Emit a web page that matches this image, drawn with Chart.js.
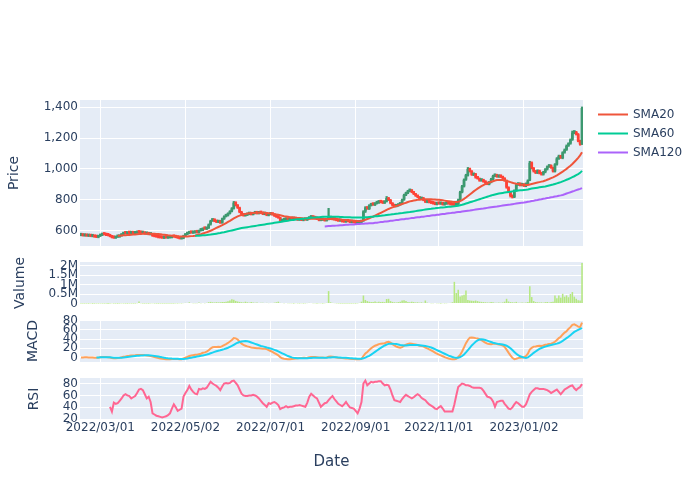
<!DOCTYPE html>
<html>
<head>
<meta charset="utf-8">
<script src="https://cdn.jsdelivr.net/npm/chart.js@4.4.1/dist/chart.umd.min.js"></script>
<style>
html,body{margin:0;padding:0;background:#ffffff;}
#wrap{position:relative;width:700px;height:500px;overflow:hidden;}
#wrap canvas{position:absolute;left:0;top:0;}
</style>
</head>
<body>
<div id="wrap">
<canvas id="cPrice" width="700" height="500"></canvas>
<canvas id="cVol" width="700" height="500"></canvas>
<canvas id="cMacd" width="700" height="500"></canvas>
<canvas id="cRsi" width="700" height="500"></canvas>
</div>
<script>
// ---------------- categories ----------------
const firstDay = '2022-02-15';
const dayCount = 260;
const dates = [];
for (let d = new Date(firstDay + 'T00:00:00Z'); dates.length < dayCount; d.setUTCDate(d.getUTCDate() + 1)) {
  const w = d.getUTCDay();
  if (w !== 0 && w !== 6) dates.push(d.toISOString().slice(0, 10).replace(/-/g, '/'));
}
const xTickDates = ['2022/03/01','2022/05/02','2022/07/01','2022/09/01','2022/11/01','2023/01/02'];

// ---------------- tick labels ----------------
const priceTicks = [600, 800, 1000, 1200, 1400];
const volTicks = [0, 500, 1000, 1500, 2000];      // thousands
const macdTicks = [0, 20, 40, 60, 80];
const rsiTicks = [20, 40, 60, 80];
const legendOrder = ['SMA20', 'SMA60', 'SMA120'];

// ---------------- OHLC ----------------
const open = [570,573,567,572,565,570,563,567,561,557,
565,571,579,574,572,568,564,557,552,559,
560,567,577,586,581,587,583,589,582,585,
591,589,584,587,579,583,575,578,567,564,
561,558,556,552,557,553,555,556,564,561,
558,554,548,551,567,577,583,591,585,587,
593,588,601,603,616,611,617,641,665,674,
663,655,664,651,677,693,699,711,726,744,
785,767,750,722,707,697,701,707,714,705,
712,718,711,722,715,707,714,699,705,711,
706,698,691,686,661,667,671,677,669,680,
675,681,675,669,673,667,675,669,677,685,
691,685,681,677,667,669,673,665,673,681,
686,679,673,669,663,667,661,657,665,661,
655,659,655,649,653,655,664,724,751,741,
764,773,767,777,781,791,785,779,789,813,
800,779,766,757,761,769,775,801,831,844,
857,865,851,839,827,819,805,813,799,785,
791,785,781,777,771,779,773,777,769,773,
779,776,771,769,764,773,801,849,887,931,
958,1002,987,961,969,946,939,924,931,919,
911,901,914,934,954,963,949,956,949,941,
926,882,852,826,817,859,897,906,894,901,
889,904,927,1042,1006,986,974,991,973,964,
979,997,1014,1023,1009,984,1029,1067,1086,1071,
1107,1124,1151,1164,1189,1234,1241,1226,1181,1162];

const high = [575,576,574,575,570,572,568,569,564,567,
575,581,582,577,574,571,566,560,560,563,
568,580,588,589,588,590,591,592,588,593,
594,592,589,590,584,586,580,580,570,567,
564,561,559,558,560,559,560,566,567,564,
561,557,554,571,581,587,593,594,591,595,
596,604,608,618,620,622,644,668,678,677,
667,666,667,682,697,705,716,730,750,790,
788,770,753,726,710,706,712,716,717,718,
720,722,724,725,718,715,716,709,713,714,
709,700,694,688,671,675,679,680,681,683,
684,683,678,675,676,677,678,681,689,694,
694,688,684,680,673,676,676,677,745,688,
689,682,676,672,669,670,664,667,668,664,
662,662,658,655,658,666,730,756,755,769,
777,776,781,786,795,794,788,794,822,816,
803,782,769,765,774,780,805,837,850,862,
868,867,855,842,830,822,816,816,802,794,
794,788,784,780,781,782,779,780,777,781,
782,779,774,771,775,805,856,894,936,966,
1010,1006,990,972,972,950,942,934,934,922,
914,919,940,960,967,966,958,960,952,944,
929,885,855,830,865,903,910,909,904,904,
910,930,1050,1046,1010,990,995,993,976,985,
1003,1020,1028,1027,1012,1035,1074,1090,1089,1112,
1130,1156,1170,1195,1246,1248,1244,1230,1186,1402];

const low = [567,565,564,563,562,561,560,557,555,554,
562,568,572,568,566,560,553,550,550,556,
557,564,574,579,578,581,580,580,579,582,
584,582,581,577,576,573,572,563,560,557,
553,552,550,549,551,550,552,553,557,554,
550,546,545,548,564,574,580,583,582,584,
585,585,598,600,608,607,614,636,660,658,
652,652,647,648,673,689,695,708,722,740,
760,744,716,700,694,694,698,703,702,702,
709,708,708,710,704,703,697,696,702,700,
692,686,680,658,657,664,668,667,666,672,
672,670,666,666,665,664,667,666,674,682,
680,677,673,664,664,666,662,662,670,678,
674,668,664,660,660,656,654,654,657,652,
651,650,646,645,650,652,660,718,738,737,
760,764,763,773,777,780,776,776,786,795,
774,761,753,754,758,765,771,797,827,840,
852,846,834,822,814,802,801,794,782,781,
780,776,772,768,767,771,770,766,765,770,
771,766,764,760,761,769,797,845,883,926,
954,980,958,957,940,934,920,920,914,906,
898,897,910,930,950,946,945,944,936,921,
875,846,818,812,814,855,893,890,890,886,
885,900,924,1000,980,970,970,968,960,960,
975,993,1010,1004,980,980,1025,1062,1068,1066,
1102,1120,1146,1160,1185,1228,1220,1176,1154,1158];

const close = [572,568,571,566,569,564,566,560,558,564,
572,578,575,571,569,563,556,553,558,561,
566,578,585,582,586,584,588,583,586,590,
588,585,586,580,582,576,577,566,563,560,
557,555,553,556,554,556,557,563,560,557,
553,549,552,568,578,584,590,586,588,592,
589,600,604,615,612,618,640,664,672,662,
656,662,650,678,692,700,712,725,745,782,
765,748,720,705,698,702,708,712,706,714,
716,712,720,714,708,712,700,706,710,704,
696,690,684,662,668,672,675,670,678,676,
680,674,670,672,668,674,670,678,686,690,
684,680,676,668,670,672,666,674,680,684,
678,672,668,664,666,660,658,664,660,656,
658,654,650,652,654,662,725,750,742,765,
772,768,778,782,790,784,780,790,812,798,
778,765,758,762,770,776,800,832,845,858,
864,850,838,826,818,806,812,798,786,790,
784,780,776,772,778,774,776,770,774,778,
775,770,768,765,772,800,850,888,930,960,
1000,985,962,968,945,938,925,930,918,910,
902,915,935,955,962,950,955,948,940,925,
880,850,825,818,860,898,905,895,900,890,
905,925,1040,1005,985,975,990,972,965,980,
998,1015,1022,1008,985,1030,1068,1085,1072,1108,
1125,1150,1165,1190,1235,1240,1225,1180,1160,1395];

// ---------------- moving averages (each starts at its own day) ----------------
const sma20Start = 19;
const sma20 = [567,
568,569,570,571,572,573,574,575,576,577,
578,579,580,580,581,581,581,580,580,579,
578,577,575,574,572,570,569,568,566,565,
564,563,562,562,563,563,564,565,566,568,
572,575,578,582,586,590,595,600,606,612,
618,624,630,636,643,650,657,664,672,680,
687,693,698,702,706,709,711,713,714,715,
716,716,717,717,717,716,715,713,711,709,
707,705,703,700,697,694,692,690,688,686,
685,684,683,682,681,680,679,679,678,678,
677,677,676,676,675,675,675,675,676,676,
675,675,674,673,672,671,670,669,668,667,
666,665,664,663,662,663,667,671,676,681,
687,692,698,704,710,716,722,728,735,741,
746,751,756,760,764,768,773,777,781,786,
790,793,796,798,800,801,803,804,804,804,
804,804,803,802,801,800,799,797,795,793,
791,789,787,786,786,788,792,798,806,815,
825,835,845,855,864,873,881,889,896,902,
907,912,917,921,925,928,929,929,928,926,
923,919,915,911,907,904,902,900,898,897,
897,897,900,903,906,909,912,915,918,921,
925,930,935,941,946,952,959,967,975,983,
992,1001,1011,1021,1032,1045,1058,1072,1088,1108];

const sma60Start = 59;
const sma60 = [567,
567,568,569,570,571,572,574,575,577,579,
581,583,585,588,590,593,596,599,602,605,
608,611,614,617,619,621,623,625,627,629,
631,633,635,637,639,641,643,645,647,649,
651,653,655,657,659,661,663,665,667,669,
670,672,674,675,677,678,680,681,683,684,
685,686,687,688,689,690,690,691,691,691,
691,691,690,690,689,689,688,688,687,687,
686,686,685,685,685,685,686,687,688,689,
690,691,693,694,696,697,699,700,702,704,
705,707,708,710,711,713,714,716,718,720,
721,723,725,727,729,731,733,735,737,739,
741,742,744,745,747,748,750,751,752,754,
755,756,757,758,760,762,765,768,772,776,
780,784,788,792,796,800,804,808,812,816,
820,824,828,832,835,838,841,843,845,847,
849,851,853,855,857,859,861,862,863,864,
865,867,870,873,875,877,879,881,883,885,
887,890,893,896,899,903,907,911,915,920,
925,930,935,941,947,953,960,967,975,988];

const sma120Start = 126;
const sma120 = [628,629,630,631,
632,632,633,634,635,636,637,638,639,640,
641,641,642,643,644,645,645,646,647,648,
648,649,651,652,654,656,657,659,660,662,
664,665,667,669,670,672,674,675,677,678,
680,682,683,685,687,688,690,691,693,695,
696,698,700,701,703,704,706,708,709,711,
713,714,716,717,719,721,722,724,726,728,
730,731,733,735,737,739,741,743,744,746,
748,750,752,754,756,757,759,761,763,765,
767,769,770,772,774,776,778,780,782,783,
785,787,789,792,794,797,799,802,804,807,
809,812,814,817,819,822,824,827,829,832,
836,841,845,849,854,858,863,867,871,876];

// ---------------- volume (thousands) ----------------
const volumeK = [30,25,20,28,22,35,18,24,30,26,
32,28,20,24,18,22,35,30,25,20,
28,35,30,26,22,30,28,24,32,45,
130,40,30,25,28,22,35,40,30,26,
22,28,25,20,24,30,26,22,28,35,
30,40,32,45,60,55,90,50,40,35,
45,80,40,50,35,60,95,110,90,80,
95,85,90,100,110,120,140,180,250,220,
160,130,110,95,80,120,90,70,100,75,
60,80,55,70,65,50,60,45,55,50,
70,90,120,60,50,40,55,45,35,40,
30,45,35,30,40,28,35,45,60,50,
40,35,30,45,35,30,40,60,670,90,
60,45,35,30,25,30,22,28,20,25,
20,30,25,35,60,120,440,210,150,120,
110,100,130,90,120,100,110,95,260,270,
150,110,90,80,100,120,180,200,150,110,
95,120,100,80,90,70,85,60,180,70,
50,45,40,55,35,40,30,45,35,40,
50,60,90,1150,570,740,390,440,480,700,
210,180,170,160,180,150,120,110,100,90,
80,75,110,90,70,60,75,65,80,120,
270,130,100,90,80,110,70,65,80,60,
75,110,920,360,150,100,90,80,85,70,
95,110,80,100,120,440,300,440,330,530,
380,450,350,520,620,380,270,200,180,2130];

// ---------------- MACD ----------------
const macd = [0,0,0.3,0.2,0,-0.2,-0.3,-0.6,-0.8,-0.5,
0.2,0.9,1.0,0.8,0.4,-0.3,-1.2,-2.0,-1.8,-1.5,
-0.9,0.2,1.5,2.2,3.0,3.4,4.0,4.2,4.5,5.0,
5.1,5.0,5.0,4.5,4.2,3.5,3.0,1.8,0.6,-0.5,
-1.5,-2.3,-3.0,-3.3,-3.8,-4.0,-4.0,-3.5,-3.3,-3.4,
-3.6,-4.0,-3.8,-2.2,-0.5,1.2,3.0,4.0,4.8,5.6,
6.0,7.0,8.0,10.0,11.0,12.5,15.5,19.5,22.0,22.5,
22.5,23.0,22.5,24.5,27.0,29.0,31.5,34.5,38.0,42.0,
41.5,39.0,34.5,30.0,27.5,25.5,24.0,23.0,21.5,21.0,
20.5,20.0,20.0,19.5,19.0,19.0,18.0,16.0,14.0,12.0,
9.5,7.0,4.5,0.5,-2.0,-3.0,-3.5,-4.0,-4.0,-3.5,
-3.0,-2.5,-2.0,-1.5,-1.2,-1.0,-1.0,-0.5,0.3,1.0,
1.0,0.8,0.5,0,-0.3,-0.2,-0.5,0,1.5,2.0,
1.5,0.8,0,-0.8,-1.2,-1.5,-2.0,-2.2,-2.5,-3.0,
-3.2,-3.5,-4.0,-4.2,-4.0,-3.0,3.0,8.5,12.0,16.0,
20.0,23.0,25.5,27.0,29.0,30.0,30.5,31.0,33.0,34.0,
32.0,29.0,26.0,23.5,22.0,21.0,22.5,25.5,28.0,29.5,
30.5,30.0,29.0,28.0,27.0,25.5,25.0,24.0,21.5,19.5,
17.5,15.5,13.0,10.5,8.0,6.0,4.5,2.5,0.5,-1.0,
-2.5,-3.5,-4.0,-4.2,-3.0,1.0,5.5,13.0,22.0,31.0,
38.0,43.0,43.5,43.0,42.0,41.5,40.0,37.5,35.0,32.0,
30.0,29.0,28.5,29.5,30.0,29.0,28.0,27.5,26.0,23.0,
17.0,10.5,4.5,-1.0,-4.0,-3.0,-1.5,-0.5,0,0.5,
3.0,8.0,17.0,21.0,23.5,24.0,25.0,25.5,25.0,26.0,
27.5,28.0,29.5,30.0,31.5,34.0,38.0,42.0,45.0,50.0,
54.0,57.0,62.0,66.0,71.0,72.0,70.0,67.0,66.0,76.0];

const signalStart = 8;
const signal = [0,0,
0.1,0.2,0.3,0.3,0.3,0.2,-0.1,-0.5,-0.7,-0.9,
-0.9,-0.7,-0.3,0.3,0.9,1.5,2.0,2.5,3.0,3.5,
3.8,4.1,4.3,4.5,4.6,4.5,4.3,3.9,3.3,2.6,
1.8,1.0,0.2,-0.5,-1.2,-1.8,-2.3,-2.6,-2.8,-3.0,
-3.1,-3.3,-3.4,-3.2,-2.8,-2.2,-1.4,-0.6,0.2,1.0,
1.8,2.6,3.4,4.3,5.2,6.2,7.5,9.0,10.5,12.0,
13.3,14.5,15.5,16.7,18.0,19.5,21.0,23.0,25.0,27.5,
30.0,32.0,33.5,34.5,35.0,35.5,35.0,34.0,32.5,31.0,
29.5,28.0,26.5,25.0,24.0,23.0,21.5,20.5,19.5,18.0,
16.5,15.0,13.0,11.0,9.0,7.0,5.0,3.0,1.5,0.0,
-1.0,-1.5,-2.0,-2.0,-2.0,-2.0,-2.0,-1.8,-1.5,-1.2,
-1.0,-0.8,-0.6,-0.5,-0.5,-0.5,-0.5,-0.5,-0.3,0.0,
0.2,0.2,0.1,0,-0.2,-0.5,-0.8,-1.0,-1.3,-1.6,
-1.9,-2.2,-2.5,-2.8,-3.0,-3.0,-2.0,-0.5,1.5,3.5,
6.0,9.0,12.0,15.0,18.0,21.0,23.5,26.0,28.0,29.5,
30.0,30.0,29.5,29.0,28.0,27.0,26.5,26.0,26.0,26.5,
27.0,27.0,27.0,27.0,26.8,26.5,26.0,25.5,25.0,24.0,
23.0,21.5,20.0,18.0,16.0,14.0,12.0,10.0,8.0,6.0,
4.0,2.5,1.0,0.0,-0.5,-0.5,0.5,3.0,6.5,11.0,
16.0,21.0,26.0,30.0,34.0,37.0,39.0,39.5,39.0,38.0,
36.5,35.0,33.5,32.0,31.0,30.0,29.0,28.5,28.0,27.0,
25.5,23.0,20.0,16.0,12.0,8.0,5.0,2.5,1.0,-0.5,
-1.0,0.0,3.0,6.5,10.0,13.0,16.0,18.5,20.5,22.0,
23.5,25.0,26.0,27.0,28.0,29.0,30.0,31.5,33.5,36.0,
39.0,42.0,45.0,48.5,52.0,55.5,58.0,60.0,62.0,64.0];

// ---------------- RSI ----------------
const rsiStart = 15;
const rsi = [41,33,48,46,47,
51,55,60,62,60,59,55,57,59,64,
70,71,69,62,55,58,49,30,28,26,
25,24,23,24,25,27,30,38,45,40,
34,36,38,58,64,69,76,70,66,63,
62,71,70,72,71,73,78,83,80,78,
76,73,69,75,80,81,80,81,84,85,
81,77,70,63,60,59,59,60,60,61,
60,58,55,51,47,44,41,47,46,48,
49,47,44,37,39,40,42,40,41,41,
42,43,43,44,43,42,41,48,58,63,
60,57,55,48,41,44,47,48,52,56,
59,54,50,46,44,42,45,49,44,40,
39,38,34,30,38,49,80,85,77,80,
83,82,83,83,84,84,80,77,78,77,
70,60,52,51,50,49,54,58,61,59,
57,55,57,60,62,60,56,54,52,48,
45,43,41,38,37,40,42,38,33,33,
33,33,33,45,60,74,77,80,79,77,
77,76,74,73,73,73,73,72,68,63,
58,57,55,50,41,49,50,51,51,46,
42,38,37,40,45,49,47,44,41,41,
45,53,62,66,69,72,72,71,71,71,
70,69,67,64,66,68,70,66,62,66,
70,72,74,76,77,72,69,72,74,79];

// ---------------- styling ----------------
const FONT = '"DejaVu Sans", Verdana, sans-serif';
const INK = '#2a3f5f';
const UP = '#3D9970', DOWN = '#FF4136';
Chart.defaults.font.family = FONT;
Chart.defaults.font.size = 12;
Chart.defaults.color = INK;

const toPoints = (arr, start) => arr.map((v, i) => ({ x: dates[start + i], y: v }));
const candleColor = (c) => close[c.dataIndex] >= open[c.dataIndex] ? UP : DOWN;

const plotBg = {
  id: 'plotBg',
  beforeDraw(chart) {
    const { ctx, chartArea: a } = chart;
    ctx.save();
    ctx.fillStyle = '#E5ECF6';
    ctx.fillRect(a.left, a.top, a.right - a.left, a.bottom - a.top);
    ctx.restore();
  }
};

const smaLegend = {
  id: 'smaLegend',
  afterDraw(chart) {
    const ctx = chart.ctx;
    const items = chart.data.datasets
      .filter(d => legendOrder.includes(d.label))
      .sort((a, b) => legendOrder.indexOf(a.label) - legendOrder.indexOf(b.label));
    items.forEach((d, i) => {
      const y = 114.5 + i * 19;
      ctx.save();
      ctx.strokeStyle = d.borderColor;
      ctx.lineWidth = 2;
      ctx.beginPath();
      ctx.moveTo(598, y);
      ctx.lineTo(628, y);
      ctx.stroke();
      ctx.fillStyle = INK;
      ctx.font = '12px ' + FONT;
      ctx.textBaseline = 'middle';
      ctx.textAlign = 'left';
      ctx.fillText(d.label, 633, y);
      ctx.restore();
    });
  }
};

function xScale(withLabels, withGrid) {
  return {
    type: 'category',
    offset: true,
    grid: { display: withGrid, color: '#ffffff', lineWidth: 1, offset: false, drawTicks: false },
    border: { display: false },
    ticks: { display: withLabels, autoSkip: false, maxRotation: 0, minRotation: 0, padding: 1, color: INK, font: { size: 12 } },
    afterBuildTicks: s => { s.ticks = xTickDates.map(d => ({ value: dates.indexOf(d) })); },
    afterFit: s => { s.height = withLabels ? 80 : 0; },
    title: withLabels
      ? { display: true, text: 'Date', color: INK, font: { size: 15 }, padding: { top: 0, bottom: 29 } }
      : { display: false }
  };
}

function yScale(min, max, tickVals, fmt, titleText, titlePad) {
  return {
    type: 'linear',
    min: min, max: max,
    grid: { color: '#ffffff', lineWidth: c => (c.tick && c.tick.value === 0) ? 2 : 1, drawTicks: false },
    border: { display: false },
    ticks: { autoSkip: false, padding: 2, color: INK, font: { size: 12 }, callback: fmt },
    afterBuildTicks: s => { s.ticks = tickVals.map(v => ({ value: v })); },
    afterFit: s => { s.width = 80; },
    title: { display: true, text: titleText, color: INK, font: { size: 14 }, padding: { top: titlePad, bottom: 0 } }
  };
}

function baseOptions(padTop, padBottom, x, y) {
  return {
    responsive: false,
    animation: false,
    events: [],
    layout: { padding: { left: 0, right: 117, top: padTop, bottom: padBottom } },
    plugins: { legend: { display: false }, tooltip: { enabled: false } },
    scales: { x: x, y: y }
  };
}

// ---------------- price panel ----------------
new Chart(document.getElementById('cPrice'), {
  type: 'bar',
  data: {
    labels: dates,
    datasets: [
      { type: 'line', label: 'SMA120', data: toPoints(sma120, sma120Start), borderColor: '#AB63FA', borderWidth: 2, pointRadius: 0, fill: false, order: 0 },
      { type: 'line', label: 'SMA60', data: toPoints(sma60, sma60Start), borderColor: '#00CC96', borderWidth: 2, pointRadius: 0, fill: false, order: 1 },
      { type: 'line', label: 'SMA20', data: toPoints(sma20, sma20Start), borderColor: '#EF553B', borderWidth: 2, pointRadius: 0, fill: false, order: 2 },
      { type: 'bar', label: 'body', data: open.map((o, i) => [o, close[i]]), backgroundColor: candleColor, borderWidth: 0, grouped: false, categoryPercentage: 1, barPercentage: 1.4, minBarLength: 2.5, order: 3 },
      { type: 'bar', label: 'wick', data: low.map((l, i) => [l, high[i]]), backgroundColor: candleColor, borderWidth: 0, grouped: false, categoryPercentage: 1, barPercentage: 1, maxBarThickness: 1.6, order: 4 }
    ]
  },
  options: baseOptions(100, 254, xScale(false, true),
    yScale(501, 1447, priceTicks, v => v.toLocaleString('en-US'), 'Price', 5.6)),
  plugins: [plotBg, smaLegend]
});

// ---------------- volume panel ----------------
new Chart(document.getElementById('cVol'), {
  type: 'bar',
  data: {
    labels: dates,
    datasets: [
      { label: 'Volume', data: volumeK, backgroundColor: '#B6E880', borderWidth: 0, categoryPercentage: 1, barPercentage: 0.8 }
    ]
  },
  options: baseOptions(262, 196, xScale(false, false),
    yScale(0, 2180, volTicks, v => v === 0 ? '0' : (v / 1000) + 'M', 'Valume', 11.6)),
  plugins: [plotBg]
});

// ---------------- MACD panel ----------------
new Chart(document.getElementById('cMacd'), {
  type: 'line',
  data: {
    labels: dates,
    datasets: [
      { label: 'Signal', data: toPoints(signal, signalStart), borderColor: '#19D3F3', borderWidth: 2, pointRadius: 0, fill: false, order: 0 },
      { label: 'MACD', data: macd, borderColor: '#FFA15A', borderWidth: 2, pointRadius: 0, fill: false, order: 1 }
    ]
  },
  options: baseOptions(320, 138, xScale(false, true),
    yScale(-10, 81.5, macdTicks, v => String(v), 'MACD', 24.6)),
  plugins: [plotBg]
});

// ---------------- RSI panel ----------------
new Chart(document.getElementById('cRsi'), {
  type: 'line',
  data: {
    labels: dates,
    datasets: [
      { label: 'RSI', data: toPoints(rsi, rsiStart), borderColor: '#FF6692', borderWidth: 2, pointRadius: 0, fill: false }
    ]
  },
  options: baseOptions(378, 0, xScale(true, true),
    yScale(18.8, 89.3, rsiTicks, v => String(v), 'RSI', 25.6)),
  plugins: [plotBg]
});
</script>
</body>
</html>
